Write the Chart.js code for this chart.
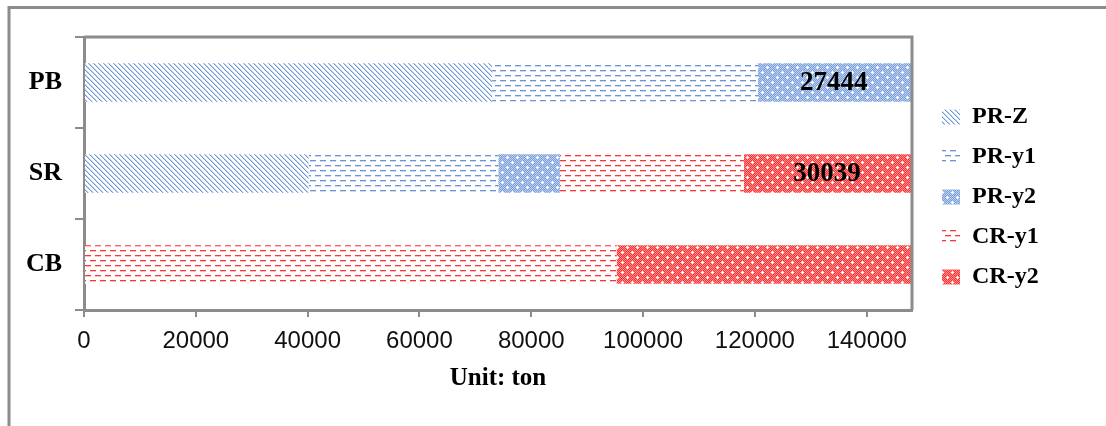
<!DOCTYPE html>
<html>
<head>
<meta charset="utf-8">
<script src="https://cdn.jsdelivr.net/npm/chart.js@4.4.1/dist/chart.umd.min.js"></script>
<style>
  html, body { margin: 0; padding: 0; background: #fff; }
  canvas { display: block; }
</style>
</head>
<body>
<canvas id="c" width="1106" height="426"></canvas>
<script>
// Tonnage by route and stage, stacked per category
const categories = ['PB', 'SR', 'CB'];
const seriesNames = ['PR-Z', 'PR-y1', 'PR-y2', 'CR-y1', 'CR-y2'];
const prZ  = [73000, 40160, 0];
const prY1 = [47540, 33940, 0];
const prY2 = [27444, 11020, 0];
const crY1 = [0, 32920, 95250];
const crY2 = [0, 30039, 52840];
const xTicks = [0, 20000, 40000, 60000, 80000, 100000, 120000, 140000];
const xMax = 148100;
const axisTitle = 'Unit: ton';
// segments that print their value inside the bar
const valueLabels = [['PR-y2', 0], ['CR-y2', 1]];

const GRAY = '#8c8c8c';
const SERIF = '"Liberation Serif", "Times New Roman", serif';
const SANS = '"Liberation Sans", Arial, sans-serif';

const ctxMain = document.getElementById('c').getContext('2d');

// ---- fill patterns ----
function makeTile(w, h, paint) {
  const c = document.createElement('canvas');
  c.width = w; c.height = h;
  const g = c.getContext('2d');
  g.fillStyle = '#fff';
  g.fillRect(0, 0, w, h);
  paint(g, w, h);
  return ctxMain.createPattern(c, 'repeat');
}
function px(g, x, y, col) { g.fillStyle = col; g.fillRect(x, y, 1, 1); }

// downward diagonal stripes
function diagonal(dark, soft) {
  return makeTile(5, 5, (g, w, h) => {
    for (let y = 0; y < h; y++) for (let x = 0; x < w; x++) {
      const d = ((x - y) % 5 + 5) % 5;
      if (d === 0) px(g, x, y, dark);
      else if (d === 1) px(g, x, y, soft);
    }
  });
}
// staggered horizontal dashes
function dashes(dark, soft) {
  return makeTile(10, 10, (g) => {
    g.fillStyle = dark;
    g.fillRect(0, 0, 6, 1); g.fillRect(5, 5, 5, 1); g.fillRect(0, 5, 1, 1);
    g.fillStyle = soft;
    g.fillRect(0, 1, 6, 1); g.fillRect(5, 6, 5, 1); g.fillRect(0, 6, 1, 1);
  });
}
// fine checker weave with small white crosses
function weave(dark, soft) {
  return makeTile(10, 10, (g, w, h) => {
    for (let y = 0; y < h; y++) for (let x = 0; x < w; x++) {
      px(g, x, y, (x + y) % 2 ? dark : soft);
    }
    [[2, 2], [7, 7]].forEach(([cx, cy]) => {
      [[0, 0], [1, 0], [-1, 0], [0, 1], [0, -1]].forEach(([dx, dy]) => px(g, cx + dx, cy + dy, '#fff'));
    });
  });
}

const fills = [
  diagonal('#6e97d6', '#c2d3ef'),
  dashes('#6a94d4', '#ccdaf1'),
  weave('#7a9fda', '#bccfee'),
  dashes('#ff3535', '#ffc0c0'),
  weave('#ff2e2e', '#ff9292')
];
const seriesValues = [prZ, prY1, prY2, crY1, crY2];

const datasets = seriesNames.map((name, i) => ({
  label: name,
  data: seriesValues[i],
  backgroundColor: fills[i],
  borderWidth: 0,
  barPercentage: 0.425,
  categoryPercentage: 1
}));

// ---- plugins ----
const frame = {
  id: 'frame',
  beforeDraw(chart) {
    const c = chart.ctx;
    c.save();
    c.fillStyle = '#fff';
    c.fillRect(0, 0, chart.width, chart.height);
    c.strokeStyle = GRAY;
    c.lineWidth = 3;
    c.strokeRect(9, 7.5, chart.width + 40, chart.height + 40);
    c.restore();
  },
  afterDatasetsDraw(chart) {
    const a = chart.chartArea, c = chart.ctx;
    c.save();
    c.strokeStyle = GRAY;
    c.lineWidth = 3;
    c.beginPath();
    c.moveTo(a.left, a.top);
    c.lineTo(a.right, a.top);
    c.lineTo(a.right, a.bottom);
    c.stroke();
    c.restore();
  }
};

const legendPlace = {
  id: 'legendPlace',
  beforeLayout(chart) {
    const L = chart.legend;
    if (L && !L._fixedFit) {
      const orig = L.fit.bind(L);
      L.fit = function () { orig(); this.width = 194; };
      L._fixedFit = true;
    }
  },
  afterLayout(chart) {
    const L = chart.legend;
    const w = L.width, h = L.height;
    L.left = 926; L.right = 926 + w;
    L.top = 89; L.bottom = 89 + h;
  }
};

const valueText = {
  id: 'valueText',
  afterDatasetsDraw(chart) {
    const c = chart.ctx;
    c.save();
    c.font = 'bold 27px ' + SERIF;
    c.fillStyle = '#000';
    c.textAlign = 'center';
    c.textBaseline = 'middle';
    valueLabels.forEach(([name, idx]) => {
      const di = seriesNames.indexOf(name);
      const el = chart.getDatasetMeta(di).data[idx];
      const v = seriesValues[di][idx];
      c.fillText(String(v), (el.x + el.base) / 2 - 1, el.y + 1);
    });
    c.restore();
  }
};

new Chart(ctxMain, {
  type: 'bar',
  data: { labels: categories, datasets },
  options: {
    indexAxis: 'y',
    responsive: false,
    animation: false,
    devicePixelRatio: 1,
    layout: { padding: { top: 37, left: 0, right: 0, bottom: 0 } },
    plugins: {
      tooltip: { enabled: false },
      legend: {
        position: 'right',
        align: 'start',
        labels: {
          boxWidth: 18,
          boxHeight: 15,
          padding: 16,
          color: '#000',
          font: { family: SERIF, size: 24, weight: 'bold' }
        }
      }
    },
    scales: {
      x: {
        stacked: true,
        min: 0,
        max: xMax,
        afterBuildTicks(scale) { scale.ticks = xTicks.map(v => ({ value: v })); },
        afterFit(scale) { scale.height = 116; },
        ticks: {
          color: '#111',
          padding: 10,
          maxRotation: 0,
          autoSkip: false,
          font: { family: SANS, size: 24 },
          callback: v => String(v)
        },
        grid: { drawOnChartArea: false, tickLength: 7, color: GRAY, lineWidth: 2 },
        border: { color: GRAY, width: 3 },
        title: {
          display: true,
          text: axisTitle,
          color: '#000',
          font: { family: SERIF, size: 25, weight: 'bold' },
          padding: { top: 0, bottom: 32 }
        }
      },
      y: {
        stacked: true,
        afterFit(scale) { scale.width = 84; },
        ticks: {
          color: '#000',
          padding: 13,
          font: { family: SERIF, size: 26, weight: 'bold' }
        },
        grid: { drawOnChartArea: false, offset: true, tickLength: 9, color: GRAY, lineWidth: 2 },
        border: { color: GRAY, width: 3 }
      }
    }
  },
  plugins: [frame, legendPlace, valueText]
});
</script>
</body>
</html>
